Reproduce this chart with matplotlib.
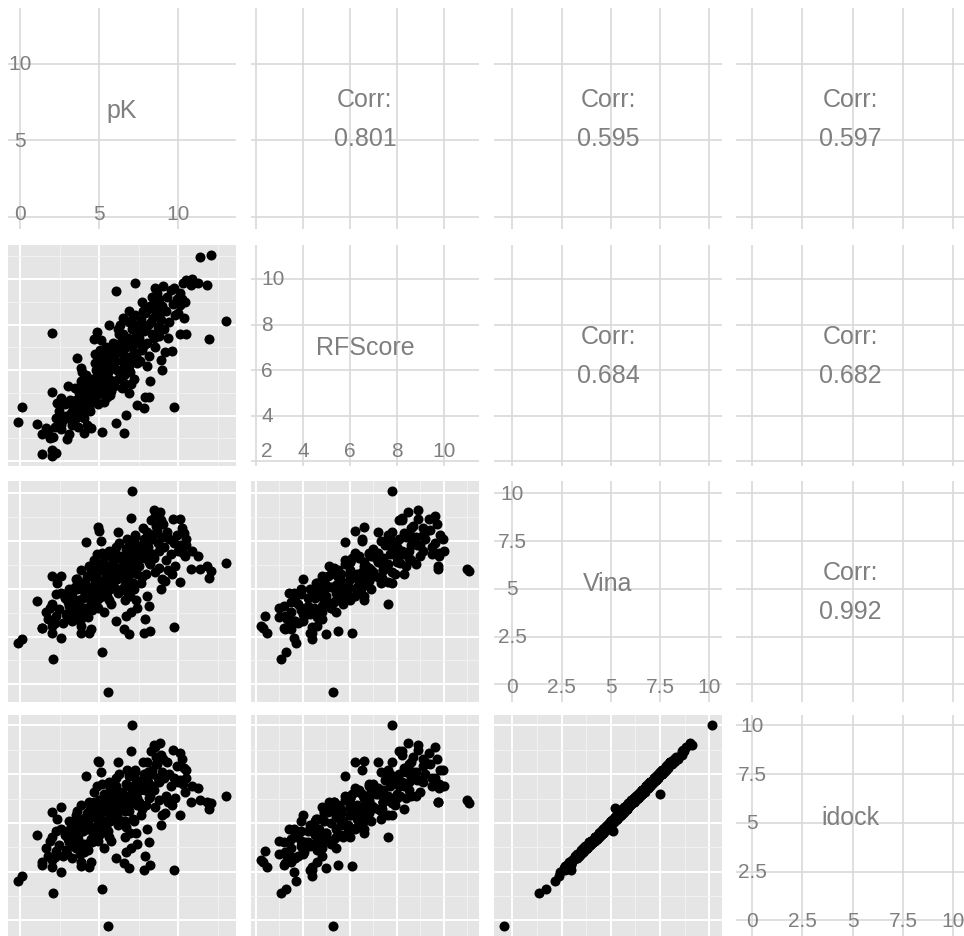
import numpy as np
import matplotlib.pyplot as plt

plt.rcParams['font.family'] = ['Liberation Sans', 'DejaVu Sans']

names = ['pK', 'RFScore', 'Vina', 'idock']
corr_text = {(0, 1): '0.801', (0, 2): '0.595', (0, 3): '0.597',
             (1, 2): '0.684', (1, 3): '0.682', (2, 3): '0.992'}

# values (one entry per complex)
pK = [-0.12, 0.10, 1.03, 1.36, 1.61, 1.40,
      1.78, 2.03, 2.24, 2.03, 2.10, 2.03, 2.56, 2.35, 2.24, 2.56,
      2.98, 3.08, 1.99, 2.45, 2.70, 2.80, 1.90, 2.60, 2.90, 2.20,
      3.04, 3.61, 3.82, 4.03, 4.45, 3.20, 3.30, 3.40, 3.50, 3.60,
      3.70, 3.80, 3.90, 4.00, 4.10, 4.20, 4.30, 4.40, 3.25, 3.45,
      3.55, 3.75, 3.85, 3.95, 4.05, 4.15, 4.25, 4.35, 4.17, 3.15,
      3.35, 3.65, 4.34, 3.82, 3.50, 4.45, 3.10, 3.90, 4.20, 4.40,
      4.65, 4.86, 5.60, 4.93, 4.97, 5.18, 5.55, 5.18, 4.60, 4.70,
      4.80, 4.90, 5.00, 5.10, 5.20, 5.30, 5.40, 5.50, 5.60, 5.70,
      5.80, 5.90, 4.55, 4.75, 4.85, 4.95, 5.05, 5.15, 5.25, 5.35,
      5.45, 5.55, 5.65, 5.75, 5.85, 5.95, 4.65, 4.80, 5.00, 5.20,
      5.40, 5.60, 5.80, 5.12, 5.50, 4.90, 5.70, 5.30, 5.90, 4.70,
      6.08, 7.27, 6.54, 6.02, 6.71, 7.38, 6.90, 7.06, 7.00, 6.10,
      6.20, 6.30, 6.40, 6.50, 6.60, 6.70, 6.80, 6.90, 7.00, 7.10,
      7.20, 7.30, 7.40, 6.15, 6.25, 6.35, 6.45, 6.55, 6.65, 6.75,
      6.85, 6.95, 7.05, 7.15, 7.25, 7.35, 7.45, 6.05, 6.30, 6.60,
      6.90, 7.20, 6.40, 6.70, 7.00, 7.30, 6.20, 6.50, 6.80, 7.10,
      7.90, 8.22, 7.80, 8.11, 8.43, 8.85, 7.50, 7.60, 7.70, 7.80,
      7.90, 8.00, 8.10, 8.20, 8.30, 8.40, 8.50, 8.60, 8.70, 8.80,
      8.90, 7.55, 7.65, 7.75, 7.85, 7.95, 8.05, 8.15, 8.25, 8.35,
      8.45, 8.55, 8.65, 8.75, 8.95, 8.91, 8.95, 8.00, 8.50, 7.70,
      9.58, 9.69, 10.10, 9.63, 10.10, 10.00, 10.10, 10.50, 10.38, 10.42,
      10.50, 10.84, 10.30, 9.10, 9.20, 9.30, 9.40, 9.50, 9.80, 9.90,
      9.05, 9.35, 9.70, 10.20, 9.15,
      11.26, 10.80, 11.36, 11.78, 11.95, 12.06, 12.98]

rfscore = [3.72, 4.38, 3.65, 2.31, 3.47, 3.20,
           3.33, 2.48, 2.38, 2.23, 3.08, 5.05, 4.79, 4.57, 3.90, 3.60,
           2.96, 3.18, 7.63, 4.20, 3.80, 4.50, 3.00, 3.40, 4.00, 3.50,
           5.30, 6.53, 6.10, 3.24, 3.47, 4.10, 4.50, 3.80, 4.70, 4.30,
           5.00, 4.00, 4.60, 5.20, 4.40, 4.90, 5.60, 4.20, 3.60, 5.20,
           3.90, 4.80, 5.50, 4.20, 3.90, 5.40, 4.60, 5.10, 5.80, 4.70,
           4.30, 3.50, 4.40, 4.60, 4.00, 4.90, 3.90, 5.90, 3.60, 5.60,
           7.37, 7.69, 7.98, 6.60, 6.20, 3.28, 5.28, 6.80, 5.00, 5.50,
           6.00, 5.20, 5.80, 6.40, 5.40, 6.10, 5.70, 6.50, 6.00, 6.70,
           5.50, 6.30, 4.60, 6.30, 4.90, 5.60, 6.90, 5.00, 6.60, 5.30,
           7.00, 5.90, 6.20, 5.10, 7.20, 6.60, 5.30, 5.70, 6.40, 6.00,
           6.40, 5.60, 6.90, 7.30, 4.80, 4.50, 4.90, 4.60, 5.30, 6.70,
           9.48, 9.84, 3.24, 3.68, 4.04, 4.47, 5.00, 7.81, 8.20, 6.00,
           6.80, 7.20, 6.40, 7.60, 6.60, 7.00, 7.40, 6.20, 7.10, 7.80,
           6.80, 7.50, 8.00, 5.60, 7.60, 6.00, 6.90, 5.80, 7.30, 6.50,
           8.10, 5.90, 6.60, 7.30, 8.40, 6.30, 7.20, 6.90, 8.00, 5.40,
           8.60, 5.60, 5.20, 6.30, 5.40, 6.60, 7.80, 8.30, 6.00, 6.50,
           4.80, 5.50, 4.32, 4.80, 8.90, 8.49, 7.40, 8.20, 6.90, 7.70,
           8.50, 7.20, 8.00, 8.80, 7.60, 8.30, 7.00, 8.70, 7.90, 9.10,
           8.20, 6.40, 7.80, 8.60, 7.10, 7.90, 8.70, 6.60, 8.10, 9.20,
           7.40, 8.50, 9.40, 7.50, 8.80, 6.46, 6.02, 6.20, 9.60, 9.00,
           6.82, 4.39, 9.38, 8.90, 8.87, 8.51, 7.60, 7.60, 8.30, 9.00,
           9.95, 10.00, 9.81, 7.80, 8.60, 9.20, 8.10, 9.50, 8.40, 9.10,
           9.70, 7.40, 9.60, 9.10, 6.80,
           9.81, 9.74, 10.97, 9.74, 7.37, 11.05, 8.14]

vina = [2.18, 2.35, 4.37, 2.97, 3.79, 2.97,
        3.40, 2.70, 3.60, 3.05, 1.34, 5.67, 5.67, 5.32, 4.72, 2.40,
        3.50, 4.10, 4.20, 3.95, 3.20, 4.50, 4.00, 4.80, 3.70, 3.20,
        4.30, 5.50, 2.70, 3.60, 2.90, 3.90, 4.60, 4.20, 3.60, 5.00,
        4.40, 3.30, 5.30, 4.00, 4.70, 5.60, 4.90, 4.10, 3.30, 5.10,
        4.00, 3.80, 6.00, 4.50, 3.90, 5.20, 3.50, 6.20, 7.45, 4.80,
        3.70, 4.30, 2.70, 3.05, 5.50, 4.30, 5.00, 5.00, 4.80, 5.80,
        6.50, 6.80, 7.00, 8.26, 8.03, 1.69, -0.40, 6.90, 4.60, 5.20,
        5.80, 4.00, 6.30, 5.40, 4.80, 6.60, 5.00, 5.90, 4.40, 6.20,
        5.60, 5.10, 3.90, 4.90, 5.50, 4.50, 6.00, 5.21, 4.60, 6.10,
        5.70, 5.13, 6.90, 4.20, 6.40, 5.80, 6.00, 4.20, 5.00, 6.40,
        4.90, 5.40, 6.70, 7.50, 4.60, 5.00, 5.00, 3.80, 6.00, 5.40,
        7.20, 7.80, 2.88, 3.30, 3.60, 4.00, 2.62, 10.12, 8.73, 5.50,
        6.10, 5.60, 6.70, 6.30, 5.20, 7.10, 6.00, 5.70, 6.60, 5.90,
        6.80, 7.30, 6.40, 4.80, 7.40, 6.00, 5.00, 6.50, 5.50, 7.60,
        7.00, 4.60, 6.20, 5.30, 7.70, 5.80, 6.90, 6.80, 6.60, 4.40,
        7.30, 5.00, 5.80, 4.90, 3.80, 4.40, 8.00, 5.80, 6.40, 7.50,
        3.40, 2.79, 2.70, 4.10, 9.13, 9.02, 6.20, 7.00, 5.60, 7.60,
        6.60, 8.00, 7.20, 6.30, 7.80, 6.80, 5.90, 8.30, 7.40, 7.00,
        8.60, 6.60, 5.30, 8.20, 6.90, 5.80, 7.50, 6.40, 8.60, 7.60,
        6.60, 7.90, 8.10, 6.10, 7.70, 5.00, 5.50, 4.60, 8.80, 7.30,
        5.80, 3.00, 8.64, 8.67, 7.30, 7.00, 5.36, 7.28, 7.90, 6.72,
        7.60, 7.00, 6.90, 7.20, 6.50, 8.00, 7.60, 6.80, 6.20, 7.80,
        8.40, 6.00, 7.40, 8.20, 5.40,
        6.72, 6.02, 6.05, 6.20, 5.58, 5.94, 6.37]

idock = [2.05, 2.30, 4.40, 3.00, 3.70, 2.85,
         3.30, 2.75, 3.55, 3.10, 1.39, 5.55, 5.80, 5.20, 4.60, 2.50,
         3.40, 4.00, 4.30, 3.85, 3.30, 4.40, 4.10, 4.70, 3.60, 3.25,
         4.20, 5.60, 2.80, 3.50, 3.00, 4.00, 4.50, 4.30, 3.70, 4.90,
         4.50, 3.40, 5.20, 3.90, 4.80, 5.50, 5.00, 4.00, 3.20, 5.00,
         4.10, 3.70, 5.90, 4.60, 3.80, 5.30, 3.60, 6.10, 7.40, 4.70,
         3.80, 4.20, 2.75, 3.00, 5.40, 4.20, 5.10, 4.90, 4.70, 5.70,
         6.60, 6.90, 7.10, 8.20, 8.10, 1.60, -0.28, 7.00, 4.50, 5.30,
         5.70, 4.10, 6.20, 5.50, 4.70, 6.50, 5.10, 5.80, 4.30, 6.30,
         5.50, 5.20, 4.00, 4.80, 5.60, 4.40, 5.90, 5.77, 4.70, 6.00,
         5.80, 4.58, 6.80, 4.10, 6.50, 5.70, 6.10, 4.30, 5.10, 6.30,
         4.80, 5.50, 6.60, 7.60, 4.50, 5.10, 5.10, 3.70, 6.10, 5.30,
         7.30, 7.70, 2.95, 3.20, 3.50, 3.90, 2.70, 10.02, 8.70, 5.40,
         6.20, 5.70, 6.60, 6.40, 5.10, 7.00, 6.10, 5.60, 6.50, 6.00,
         6.90, 7.20, 6.30, 4.90, 7.50, 5.90, 5.10, 6.40, 5.60, 7.70,
         6.90, 4.50, 6.30, 5.20, 7.60, 5.90, 6.80, 6.90, 6.50, 4.30,
         7.40, 5.10, 5.70, 4.80, 3.70, 4.50, 8.10, 5.70, 6.30, 6.50,
         3.30, 2.85, 2.60, 4.00, 9.00, 9.10, 6.10, 7.10, 5.70, 7.50,
         6.70, 8.10, 7.10, 6.40, 7.70, 6.90, 5.80, 8.40, 7.30, 7.10,
         8.50, 6.70, 5.40, 8.10, 6.80, 5.90, 7.60, 6.30, 8.70, 7.50,
         6.70, 8.00, 8.00, 6.20, 7.60, 4.90, 5.40, 4.70, 8.90, 7.20,
         5.90, 2.60, 8.60, 8.75, 7.20, 7.10, 5.40, 7.30, 7.80, 6.60,
         7.70, 6.90, 7.00, 7.30, 6.40, 8.10, 7.50, 6.90, 6.30, 7.90,
         8.30, 6.10, 7.30, 8.30, 5.50,
         6.80, 6.10, 6.20, 6.10, 5.70, 6.00, 6.38]

major = [[0, 5, 10], [2, 4, 6, 8, 10], [0, 2.5, 5, 7.5, 10], [0, 2.5, 5, 7.5, 10]]
minor = [[2.5, 7.5, 12.5], [3, 5, 7, 9, 11], [1.25, 3.75, 6.25, 8.75], [1.25, 3.75, 6.25, 8.75]]
tick_text = [['0', '5', '10'], ['2', '4', '6', '8', '10'],
             ['0', '2.5', '5', '7.5', '10'], ['0', '2.5', '5', '7.5', '10']]

data = [np.array(pK), np.array(rfscore), np.array(vina), np.array(idock)]
limits = []
for v in data:
    pad = 0.05 * (v.max() - v.min())
    limits.append((v.min() - pad, v.max() + pad))

W, H = 964, 937
fig = plt.figure(figsize=(W / 100, H / 100), dpi=100)
lefts = [8, 251, 494, 736]
tops = [9, 246, 482, 716]
pw, ph = 228, 221
grey_txt = '#7F7F7F'

for i in range(4):
    for j in range(4):
        ax = fig.add_axes([lefts[j] / W, 1 - (tops[i] + ph) / H, pw / W, ph / H])
        ax.set_xlim(limits[j])
        ax.set_ylim(limits[i])
        ax.set_xticks(major[j])
        ax.set_yticks(major[i])
        for s in ax.spines.values():
            s.set_visible(False)
        ax.tick_params(which='both', length=0, labelbottom=False, labelleft=False)
        ax.set_axisbelow(True)
        if i > j:
            ax.set_facecolor('#E5E5E5')
            ax.set_xticks(minor[j], minor=True)
            ax.set_yticks(minor[i], minor=True)
            ax.grid(which='major', color='white', linewidth=1.4)
            ax.grid(which='minor', color='#F2F2F2', linewidth=0.7)
            ax.scatter(data[j], data[i], s=52, c='black', linewidths=0, zorder=3)
        else:
            ax.set_facecolor('white')
            ax.grid(which='major', color='#D9D9D9', linewidth=1.2)
            if i < j:
                ax.text(0.5, 0.59, 'Corr:', transform=ax.transAxes, ha='center',
                        va='center', fontsize=18, color=grey_txt)
                ax.text(0.5, 0.41, corr_text[(i, j)], transform=ax.transAxes,
                        ha='center', va='center', fontsize=18, color=grey_txt)
            else:
                lo, hi = limits[j]
                ax.text(0.5, 0.54, names[j], transform=ax.transAxes, ha='center',
                        va='center', fontsize=18, color=grey_txt)
                # internal axis labels
                edge = lo + 0.045 * (hi - lo)
                if major[j][0] < edge:
                    x0, ha0 = edge, 'left'
                else:
                    x0, ha0 = major[j][0], 'center'
                for k, (m, t) in enumerate(zip(major[j], tick_text[j])):
                    xp, ha = (x0, ha0) if k == 0 else (m, 'center')
                    ax.text(xp, 0.07, t, transform=ax.get_xaxis_transform(),
                            ha=ha, va='center', fontsize=15, color=grey_txt)
                for m, t in zip(major[i][1:], tick_text[i][1:]):
                    ax.text(x0, m, t, ha=ha0, va='center', fontsize=15, color=grey_txt)

fig.savefig('out.png', dpi=100)
